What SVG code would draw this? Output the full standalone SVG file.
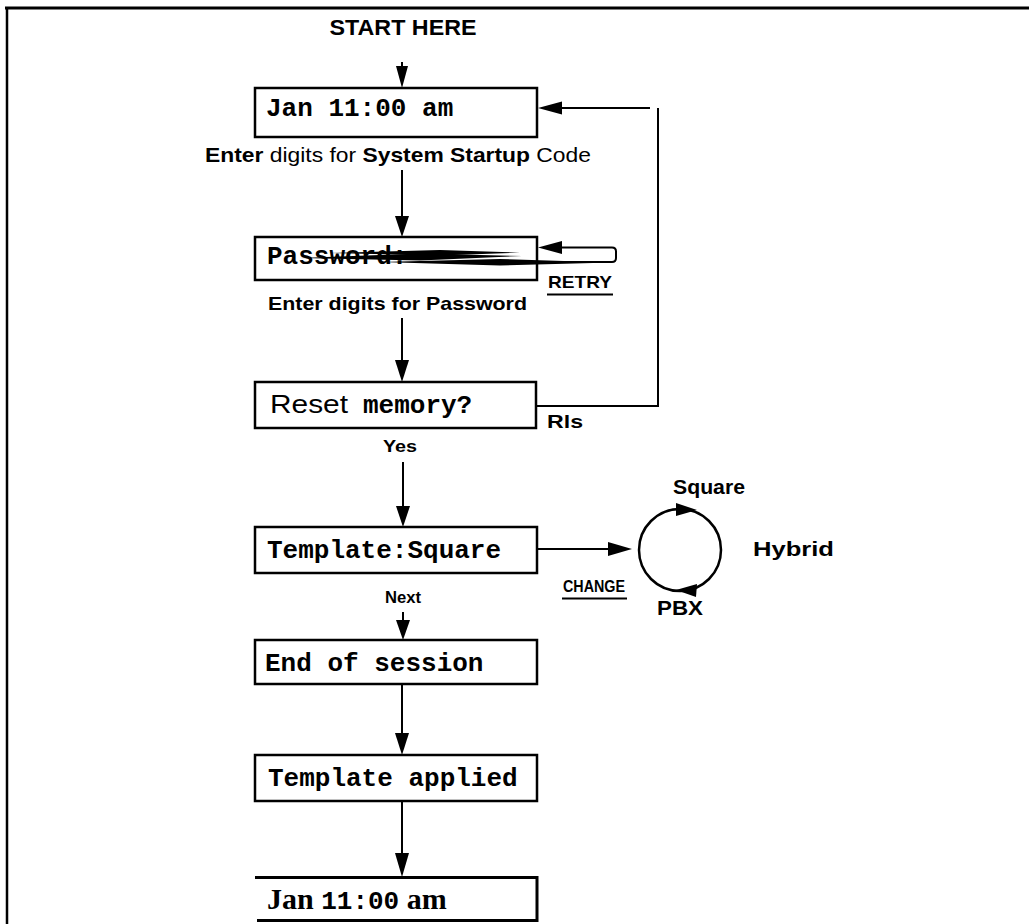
<svg xmlns="http://www.w3.org/2000/svg" width="1029" height="924" viewBox="0 0 1029 924">
<style>
.box{fill:none;stroke:#000;stroke-width:2.5}
.ln{fill:none;stroke:#000;stroke-width:2}
.hd{fill:#000}
.mono{font-family:"Liberation Mono","DejaVu Sans Mono",monospace;font-weight:bold;font-size:26px;fill:#000}
.sans{font-family:"Liberation Sans",Arial,sans-serif;fill:#000}
.b{font-weight:bold}
</style>
<rect width="1029" height="924" fill="#fff"/>
<g id="frame">
<line x1="5" y1="8" x2="1029" y2="8" stroke="#000" stroke-width="3"/>
<line x1="7" y1="7" x2="7" y2="924" stroke="#000" stroke-width="2.5"/>
</g>
<g id="start"><text class="sans b" x="403" y="35" font-size="22" text-anchor="middle" textLength="147" lengthAdjust="spacingAndGlyphs">START HERE</text></g>
<g id="n1">
<rect class="box" x="255" y="88" width="282" height="49"/>
<text class="mono" x="266" y="116">Jan 11:00 am</text>
<text class="sans" x="205" y="162" font-size="21" textLength="386" lengthAdjust="spacingAndGlyphs"><tspan class="b">Enter</tspan> digits for <tspan class="b">System Startup</tspan> Code</text>
</g>
<g id="n2">
<rect class="box" x="255" y="237" width="282" height="43"/>
<text class="mono" x="267" y="264" font-size="24">Password:</text>
<polygon class="hd" points="300,258 420,253.5 522,256 420,260.5"/>
<polygon class="hd" points="330,253 440,250 520,252.5 440,255.5"/>
<polygon class="hd" points="380,262 500,259 612,262.5 500,265.5"/>
<text class="sans b" x="548" y="288" font-size="17" textLength="64" lengthAdjust="spacingAndGlyphs">RETRY</text>
<line x1="547" y1="294.5" x2="613" y2="294.5" stroke="#000" stroke-width="2"/>
<text class="sans b" x="268" y="310" font-size="19" textLength="259" lengthAdjust="spacingAndGlyphs">Enter digits for Password</text>
</g>
<g id="n3">
<rect class="box" x="255" y="382" width="281" height="46"/>
<text x="270" y="413" font-family="'Liberation Sans',Arial,sans-serif" font-size="26" fill="#000" textLength="78" lengthAdjust="spacingAndGlyphs">Reset</text>
<text class="mono" x="363" y="413" font-size="25">memory?</text>
<text class="sans b" x="547" y="428" font-size="19" textLength="36" lengthAdjust="spacingAndGlyphs">Rls</text>
<text class="sans b" x="383" y="452" font-size="16" textLength="34" lengthAdjust="spacingAndGlyphs">Yes</text>
</g>
<g id="n4">
<rect class="box" x="255" y="527" width="282" height="46"/>
<text class="mono" x="267" y="558">Template:Square</text>
<text class="sans b" x="563" y="592" font-size="17" textLength="62" lengthAdjust="spacingAndGlyphs">CHANGE</text>
<line x1="562" y1="598.5" x2="627" y2="598.5" stroke="#000" stroke-width="2"/>
<text class="sans b" x="385" y="603" font-size="16" textLength="36" lengthAdjust="spacingAndGlyphs">Next</text>
</g>
<g id="cycle">
<circle cx="680" cy="550" r="41" fill="none" stroke="#000" stroke-width="2.5"/>
<polygon class="hd" points="697,510 676,503 676,516"/>
<polygon class="hd" points="676,590 697,584 696,597"/>
<text class="sans b" x="709" y="494" font-size="21" text-anchor="middle" textLength="72" lengthAdjust="spacingAndGlyphs">Square</text>
<text class="sans b" x="753" y="556" font-size="21" textLength="81" lengthAdjust="spacingAndGlyphs">Hybrid</text>
<text class="sans b" x="680" y="615" font-size="21" text-anchor="middle" textLength="46" lengthAdjust="spacingAndGlyphs">PBX</text>
</g>
<g id="n5">
<rect class="box" x="255" y="640" width="282" height="44"/>
<text class="mono" x="265" y="671">End of session</text>
</g>
<g id="n6">
<rect class="box" x="255" y="755" width="282" height="46"/>
<text class="mono" x="268" y="786">Template applied</text>
</g>
<g id="n7">
<path d="M255,877.5 H537 V920.5 H257" fill="none" stroke="#000" stroke-width="3"/>
<text x="267" y="909" fill="#000"><tspan font-family="'Liberation Serif','Times New Roman',serif" font-weight="bold" font-size="30">Jan </tspan><tspan class="mono">11:00</tspan><tspan font-family="'Liberation Serif','Times New Roman',serif" font-weight="bold" font-size="30"> am</tspan></text>
</g>
<g id="connectors">
<line class="ln" x1="402" y1="62" x2="402" y2="70"/>
<polygon class="hd" points="402,88 396,66 408,66"/>
<line class="ln" x1="402" y1="170" x2="402" y2="218"/>
<polygon class="hd" points="402,237 395,216 409,216"/>
<line class="ln" x1="402" y1="318" x2="402" y2="362"/>
<polygon class="hd" points="402,382 395,360 409,360"/>
<line class="ln" x1="403" y1="462" x2="403" y2="508"/>
<polygon class="hd" points="403,527 396,506 410,506"/>
<line class="ln" x1="403" y1="612" x2="403" y2="622"/>
<polygon class="hd" points="403,640 396,620 410,620"/>
<line class="ln" x1="402" y1="684" x2="402" y2="736"/>
<polygon class="hd" points="402,755 395,733 409,733"/>
<line class="ln" x1="402" y1="801" x2="402" y2="856"/>
<polygon class="hd" points="402,877 395,853 409,853"/>
<line class="ln" x1="537" y1="549" x2="610" y2="549"/>
<polygon class="hd" points="632,549 608,542 608,556"/>
<line class="ln" x1="537" y1="406" x2="659" y2="406"/>
<line class="ln" x1="658" y1="108" x2="658" y2="407"/>
<line class="ln" x1="650" y1="108" x2="560" y2="108"/>
<polygon class="hd" points="538,108 562,101.5 562,114.5"/>
<path class="ln" d="M560,247.5 H612 Q616,247.5 616,251.5 V258 Q616,262 612,262 H560"/>
<polygon class="hd" points="538,247.5 562,241 562,254"/>
</g>
</svg>
